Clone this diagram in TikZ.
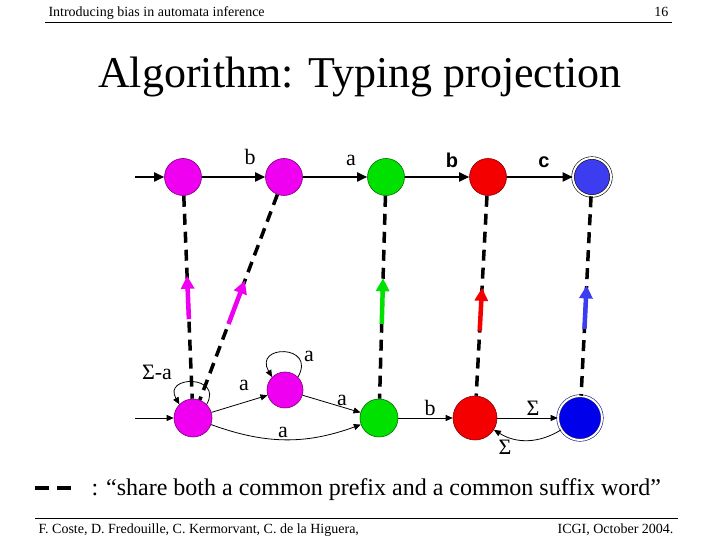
\documentclass[tikz,border=0pt]{standalone}
\usepackage{fontspec}
\setmainfont{Liberation Serif}
\newfontfamily\labsans{Liberation Sans}
\usetikzlibrary{arrows.meta,calc}
\definecolor{magfill}{RGB}{240,0,240}
\definecolor{magline}{RGB}{120,0,120}
\definecolor{grnfill}{RGB}{0,225,0}
\definecolor{grnline}{RGB}{0,110,0}
\definecolor{redfill}{RGB}{245,0,0}
\definecolor{redline}{RGB}{130,0,0}
\definecolor{blufill}{RGB}{60,60,240}
\definecolor{bluline}{RGB}{20,20,120}
\definecolor{bludeep}{RGB}{0,0,235}
\tikzset{
  stnode/.style={circle, draw, inner sep=0pt, minimum size=37pt, line width=0.6pt},
  final/.style={double=white, double distance=2pt},
  topedge/.style={line width=1.8pt, -{Triangle[length=10pt,width=9pt]}},
  botedge/.style={line width=0.8pt, -{Triangle[length=7pt,width=6pt]}},
  share/.style={line width=3.5pt, dash pattern=on 11pt off 7pt},
  proj/.style={line width=4.5pt, -{Triangle[length=13pt,width=13pt]}},
  lab/.style={font=\fontsize{22}{24}\selectfont},
  boldlab/.style={font=\labsans\bfseries\fontsize{20}{22}\selectfont}
}
\begin{document}
\begin{tikzpicture}[x=1pt,y=1pt]
	\useasboundingbox (0,0) rectangle (720,540);
	% header and footer
	\node (head) at (45,523) [anchor=base west, font=\fontsize{14}{16}\selectfont] {Introducing bias in automata inference};
	\node (page) at (672,523) [anchor=base east, font=\fontsize{14}{16}\selectfont] {16};
	\draw[line width=0.8pt] (45,518) -- (672,518);
	\node (title) at (360,452) [anchor=base, font=\fontsize{44}{48}\selectfont] {Algorithm: Typing projection};
	\draw[line width=0.8pt] (35,22) -- (678,22);
	\node (authors) at (35,6) [anchor=base west, font=\fontsize{14}{16}\selectfont] {F. Coste, D. Fredouille, C. Kermorvant, C. de la Higuera,};
	\node (conf) at (677,6) [anchor=base east, font=\fontsize{14}{16}\selectfont] {ICGI, October 2004.};
	% upper automaton
	\coordinate (qin) at (135,363);
	\node (q1) at (183,363) [stnode, fill=magfill, draw=magline] {};
	\node (q2) at (284,363) [stnode, fill=magfill, draw=magline] {};
	\node (q3) at (386,363) [stnode, fill=grnfill, draw=grnline] {};
	\node (q4) at (488,363) [stnode, fill=redfill, draw=redline] {};
	\node (q5) at (592,363) [stnode, final, minimum size=38pt, fill=blufill, draw=black] {};
	\draw[topedge] (qin) -- (q1);
	\draw[topedge] (q1) -- (q2);
	\draw[topedge] (q2) -- (q3);
	\draw[topedge] (q3) -- (q4);
	\draw[topedge] (q4) -- (q5);
	\node (tb1) at (250,383) [lab] {b};
	\node (ta1) at (351,380) [lab] {a};
	\node (tb2) at (452,380) [boldlab] {b};
	\node (tc1) at (544,378) [boldlab] {c};
	% lower automaton
	\coordinate (pin) at (135,122);
	\node (p1) at (193,122) [stnode, minimum size=38pt, fill=magfill, draw=magline] {};
	\node (p2) at (285,150) [stnode, minimum size=36pt, fill=magfill, draw=magline] {};
	\node (p3) at (379,122) [stnode, minimum size=38pt, fill=grnfill, draw=grnline] {};
	\node (p4) at (475,122) [stnode, minimum size=44pt, fill=redfill, draw=redline] {};
	\node (p5) at (580,122) [stnode, final, minimum size=44pt, fill=bludeep, draw=bluline] {};
	\draw[botedge] (pin) -- (p1);
	\draw[botedge] (p1.45) .. controls +(60:34pt) and +(120:34pt) .. (p1.135);
	\draw[botedge] (p1) -- (p2);
	\draw[botedge] (p2.45) .. controls +(60:38pt) and +(120:38pt) .. (p2.135);
	\draw[botedge] (p2) -- (p3);
	\draw[botedge] (p1) to[bend right=20] (p3);
	\draw[botedge] (p3) -- (p4);
	\draw[botedge] (p4) -- (p5);
	\draw[botedge] (p5) to[bend left=32] (p4);
	\node (bsa) at (157,168) [lab] {Σ-a};
	\node (ba1) at (244,155) [lab] {a};
	\node (ba2) at (309,184) [lab] {a};
	\node (ba3) at (342,140) [lab] {a};
	\node (ba4) at (283,108) [lab] {a};
	\node (bb1) at (430,132) [lab] {b};
	\node (bs1) at (533,132) [lab] {Σ};
	\node (bs2) at (505,93) [lab] {Σ};
	% projection
	\draw[share] (q1) -- (p1);
	\draw[share] (q2) -- (p1);
	\draw[share] (q3) -- (p3);
	\draw[share] (q4) -- (p4);
	\draw[share] (q5) -- (p5);
	\coordinate (m1a) at ($(p1)!0.41!(q1)$);
	\coordinate (m1b) at ($(p1)!0.59!(q1)$);
	\coordinate (m2a) at ($(p1)!0.39!(q2)$);
	\coordinate (m2b) at ($(p1)!0.57!(q2)$);
	\coordinate (g1a) at ($(p3)!0.39!(q3)$);
	\coordinate (g1b) at ($(p3)!0.58!(q3)$);
	\coordinate (r1a) at ($(p4)!0.36!(q4)$);
	\coordinate (r1b) at ($(p4)!0.54!(q4)$);
	\coordinate (b1a) at ($(p5)!0.37!(q5)$);
	\coordinate (b1b) at ($(p5)!0.55!(q5)$);
	\draw[proj, magfill] (m1a) -- (m1b);
	\draw[proj, magfill] (m2a) -- (m2b);
	\draw[proj, grnfill] (g1a) -- (g1b);
	\draw[proj, redfill] (r1a) -- (r1b);
	\draw[proj, blufill] (b1a) -- (b1b);
	% legend
	\coordinate (lg1) at (35,52);
	\coordinate (lg2) at (75,52);
	\draw[share, dash pattern=on 14pt off 8pt] (lg1) -- (lg2);
	\node (legend) at (88,44) [anchor=base west, font=\fontsize{24}{28}\selectfont] {: “share both a common prefix and a common suffix word”};
\end{tikzpicture}
\end{document}
